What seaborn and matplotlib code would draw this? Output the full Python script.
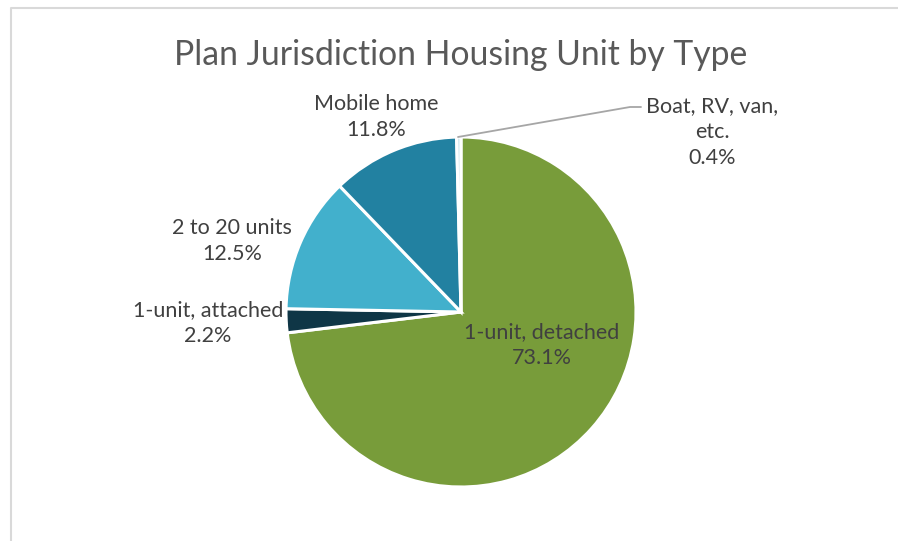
import matplotlib
matplotlib.use("Agg")
import matplotlib.pyplot as plt
from matplotlib.lines import Line2D
import seaborn as sns

# ---- data ----
categories = ["1-unit, detached", "1-unit, attached", "2 to 20 units", "Mobile home", "Boat, RV, van,\netc."]
shares = [73.1, 2.2, 12.5, 11.8, 0.4]
pct_labels = ["73.1%", "2.2%", "12.5%", "11.8%", "0.4%"]
title = "Plan Jurisdiction Housing Unit by Type"

colors = ["#789C3A", "#0F3646", "#42B0CC", "#2281A1", "#CFE6EE"]

sns.set_theme(style="white")
plt.rcParams["font.family"] = ["Lato", "DejaVu Sans"]

W, H = 898, 541
fig = plt.figure(figsize=(W / 100, H / 100), dpi=100)
fig.patch.set_facecolor("white")

def fx(px):
    return px / W

def fy(py):
    return 1 - py / H

# pie axes: center (461,312), radius 175 px
cx, cy, r = 461, 312, 175
ax = fig.add_axes([fx(cx - r), fy(cy + r), 2 * r / W, 2 * r / H])
wedges, _ = ax.pie(shares, colors=colors, startangle=90, counterclock=False,
                   radius=1.0,
                   wedgeprops=dict(edgecolor="white", linewidth=2.2))
ax.set_xlim(-1, 1)
ax.set_ylim(-1, 1)
ax.set_aspect("auto")
ax.axis("off")

# title
fig.text(fx(461), fy(55), title, ha="center", va="center",
         fontsize=24.3, color="#595959")

# data labels (layout positions in pixels)
label_pos = [(542, 345), (208, 323), (232, 241), (376, 117), (712, 132)]
for name, pct, (lx, ly) in zip(categories, pct_labels, label_pos):
    fig.text(fx(lx), fy(ly), f"{name}\n{pct}", ha="center", va="center",
             fontsize=15.5, color="#404040", linespacing=1.4)

# leader line for the small slice
fig.add_artist(Line2D([fx(458), fx(630), fx(641)], [fy(137), fy(107), fy(107)],
                      color="#A6A6A6", linewidth=1.3))

# chart frame (light gray border, visible at top and left)
fig.add_artist(Line2D([fx(11), fx(11), fx(W + 5)], [fy(H + 5), fy(8), fy(8)],
                      color="#D9D9D9", linewidth=1.5))

fig.savefig("out.png", dpi=100, facecolor="white")
